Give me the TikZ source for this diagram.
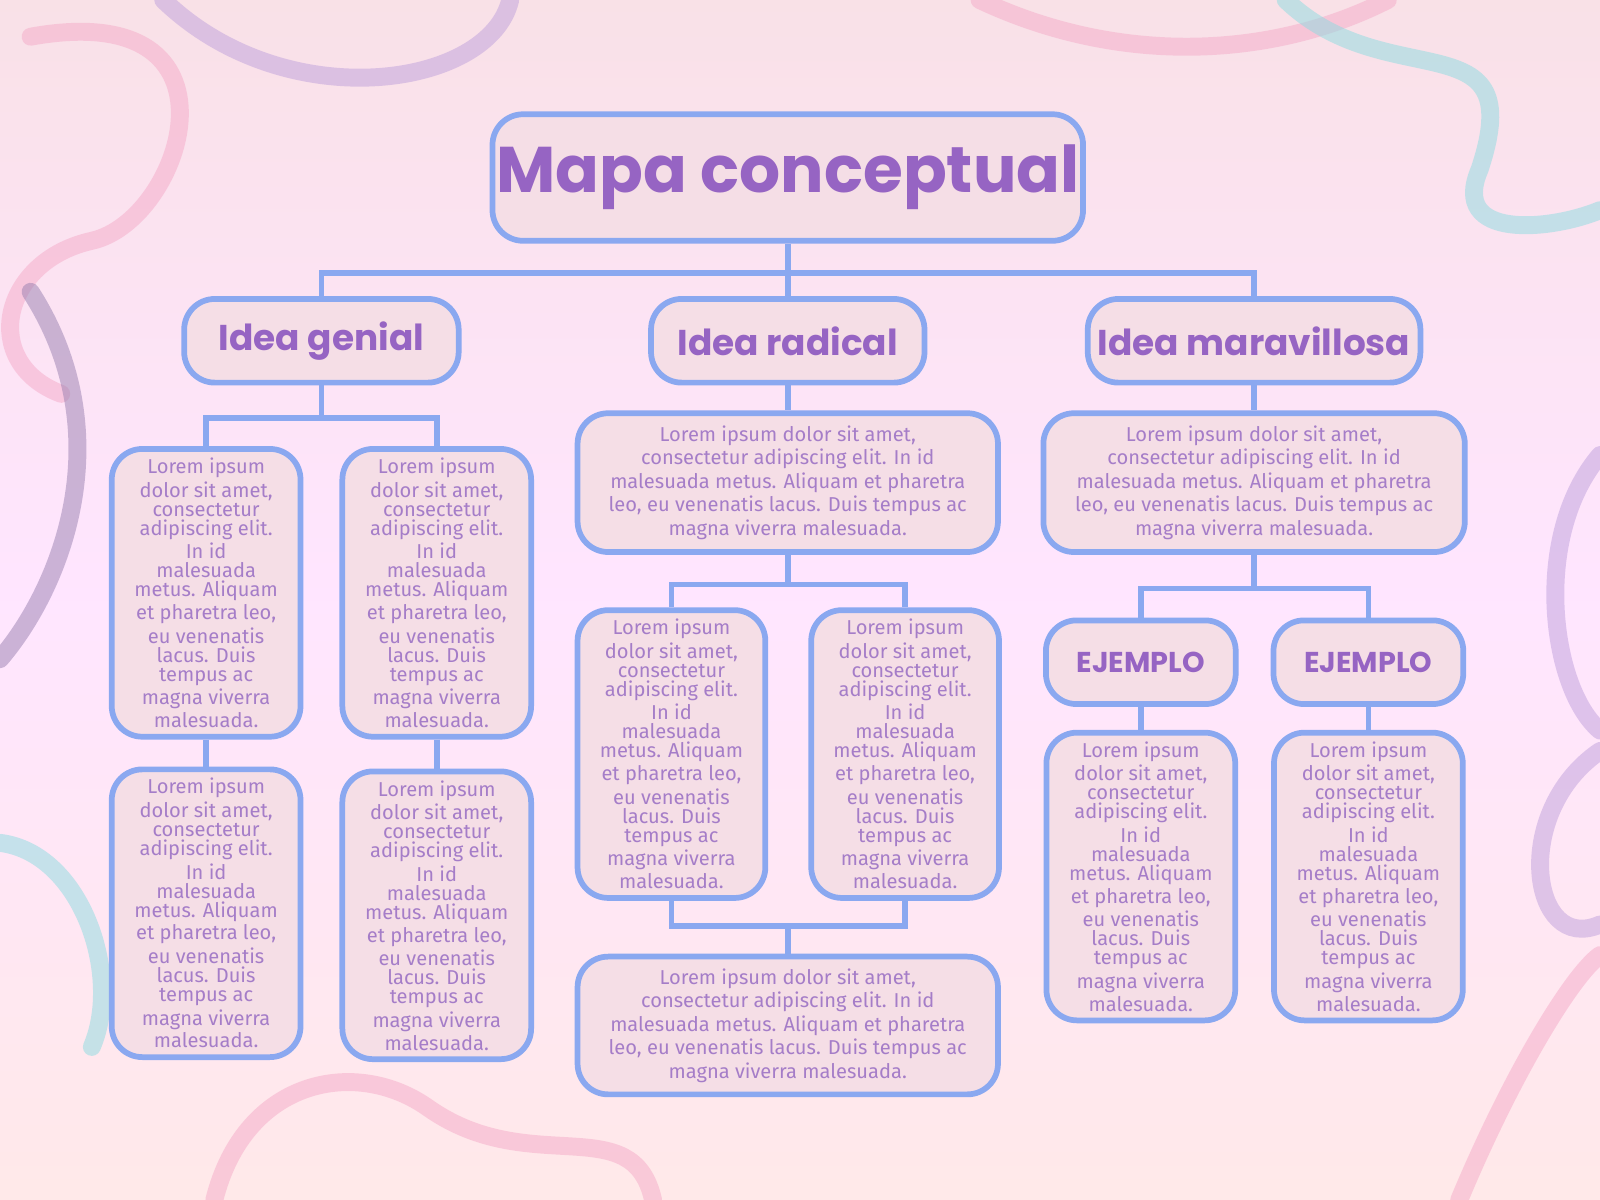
\documentclass[tikz,border=0pt]{standalone}
\usepackage{fontspec}
\setmainfont{Fira Sans}
\newfontfamily\headfont{Poppins}
\usetikzlibrary{positioning, calc}
\definecolor{boxfill}{RGB}{245, 222, 230}
\definecolor{boxline}{RGB}{138, 168, 240}
\definecolor{titlepurple}{RGB}{150, 100, 195}
\definecolor{textpurple}{RGB}{165, 125, 200}
\definecolor{swirlpink}{RGB}{245, 170, 200}
\definecolor{swirlteal}{RGB}{140, 220, 225}
\definecolor{swirllilac}{RGB}{190, 160, 220}
\tikzstyle{mainbox} = [rectangle, rounded corners=0.3cm, draw=boxline, line width=1.6pt, fill=boxfill, text centered, inner sep=1pt]
\tikzstyle{idea} = [mainbox, minimum height=0.82cm, font=\headfont\bfseries\fontsize{10}{11}\selectfont, text=titlepurple]
\tikzstyle{narrow} = [mainbox, minimum width=1.85cm, minimum height=2.82cm, align=center, font=\fontsize{5.6}{5.3}\selectfont, text=textpurple]
\tikzstyle{wide} = [mainbox, minimum width=4.12cm, minimum height=1.36cm, align=center, font=\fontsize{5.6}{5.3}\selectfont, text=textpurple]
\tikzstyle{link} = [draw=boxline, line width=1.6pt]
\tikzstyle{swirl} = [line width=5pt, line cap=round, opacity=0.5]
\newcommand{\narrowtxt}{Lorem ipsum\\dolor sit amet,\\consectetur\\adipiscing elit.\\In id\\malesuada\\metus. Aliquam\\et pharetra leo,\\eu venenatis\\lacus. Duis\\tempus ac\\magna viverra\\malesuada.}
\newcommand{\widetxt}{Lorem ipsum dolor sit amet,\\consectetur adipiscing elit. In id\\malesuada metus. Aliquam et pharetra\\leo, eu venenatis lacus. Duis tempus ac\\magna viverra malesuada.}
\begin{document}
\begin{tikzpicture}
\useasboundingbox (0,0) rectangle (15.68,11.76);
% background
\shade[top color=blue!6!pink!40, bottom color=pink!35, middle color=magenta!10] (0,0) rectangle (15.68,11.76);
\draw[swirl, swirlpink] (0.3,11.4) .. controls (2.5,11.8) and (1.8,9.6) .. (0.9,9.4) .. controls (0,9.2) and (-0.2,8.2) .. (0.6,7.9);
\draw[swirl, swirllilac] (1.6,11.76) .. controls (2.8,10.6) and (4.8,10.9) .. (5,11.76);
\draw[swirl, swirllilac!80!black] (0.3,8.9) .. controls (1.2,7.5) and (0.6,6) .. (0,5.3);
\draw[swirl, swirlpink] (9.6,11.76) .. controls (11,11.1) and (12.5,11.2) .. (13.6,11.76);
\draw[swirl, swirlteal] (12.6,11.76) .. controls (13.6,10.8) and (15,11.6) .. (14.5,10.1) .. controls (14.2,9.4) and (15.2,9.5) .. (15.68,9.7);
\draw[swirl, swirllilac] (15.68,7.3) .. controls (15,6.5) and (15.2,5) .. (15.68,4.6);
\draw[swirl, swirllilac] (15.68,4.4) .. controls (14.8,3.8) and (15,2.4) .. (15.68,2.7);
\draw[swirl, swirlpink] (14.3,0) .. controls (14.8,1.2) and (15.4,2.2) .. (15.68,2.4);
\draw[swirl, swirlpink] (2.1,0) .. controls (2.4,1.2) and (3.5,1.4) .. (4.2,0.9) .. controls (5.2,0.2) and (6.2,0.9) .. (6.4,0);
\draw[swirl, swirlteal] (0,3.5) .. controls (0.8,3.4) and (1.2,2.2) .. (0.9,1.5);

% nodes
\node (title) [mainbox, minimum width=5.71cm, minimum height=1.24cm, font=\headfont\bfseries\fontsize{18}{20}\selectfont, text=titlepurple] at (7.72,10.02) {Mapa conceptual};
\node (genial) [idea, minimum width=2.69cm] at (3.15,8.42) {Idea genial};
\node (radical) [idea, minimum width=2.68cm] at (7.72,8.42) {Idea radical};
\node (maravillosa) [idea, minimum width=3.26cm] at (12.29,8.42) {Idea maravillosa};

\node (genA) [narrow] at (2.02,5.95) {\narrowtxt};
\node (genB) [narrow] at (4.28,5.95) {\narrowtxt};
\node (genC) [narrow] at (2.02,2.81) {\narrowtxt};
\node (genD) [narrow] at (4.28,2.79) {\narrowtxt};

\node (radTop) [wide] at (7.72,7.03) {\widetxt};
\node (radA) [narrow, minimum width=1.84cm] at (6.58,4.37) {\narrowtxt};
\node (radB) [narrow, minimum width=1.84cm] at (8.87,4.37) {\narrowtxt};
\node (radBottom) [wide, minimum height=1.35cm] at (7.72,1.71) {\widetxt};

\node (marTop) [wide, minimum width=4.13cm] at (12.29,7.03) {\widetxt};
\node (ejemA) [idea, minimum width=1.86cm, font=\headfont\bfseries\fontsize{8}{9}\selectfont] at (11.18,5.27) {EJEMPLO};
\node (ejemB) [idea, minimum width=1.86cm, font=\headfont\bfseries\fontsize{8}{9}\selectfont] at (13.41,5.27) {EJEMPLO};
\node (marA) [narrow] at (11.18,3.17) {\narrowtxt};
\node (marB) [narrow] at (13.41,3.17) {\narrowtxt};

% links
\draw [link] (title.south) -- ++(0,-0.29) coordinate (bus);
\draw [link] (genial.north) |- (bus) -| (maravillosa.north);
\draw [link] (bus) -- (radical.north);
\draw [link] (genial.south) -- ++(0,-0.32) coordinate (genbus);
\draw [link] (genA.north) |- (genbus) -| (genB.north);
\draw [link] (genA) -- (genC);
\draw [link] (genB) -- (genD);
\draw [link] (radical) -- (radTop);
\draw [link] (radTop.south) -- ++(0,-0.29) coordinate (radbus);
\draw [link] (radA.north) |- (radbus) -| (radB.north);
\draw [link] (radBottom.north) -- ++(0,0.27) coordinate (lowbus);
\draw [link] (radA.south) |- (lowbus) -| (radB.south);
\draw [link] (maravillosa) -- (marTop);
\draw [link] (marTop.south) -- ++(0,-0.33) coordinate (marbus);
\draw [link] (ejemA.north) |- (marbus) -| (ejemB.north);
\draw [link] (ejemA) -- (marA);
\draw [link] (ejemB) -- (marB);
\end{tikzpicture}
\end{document}
